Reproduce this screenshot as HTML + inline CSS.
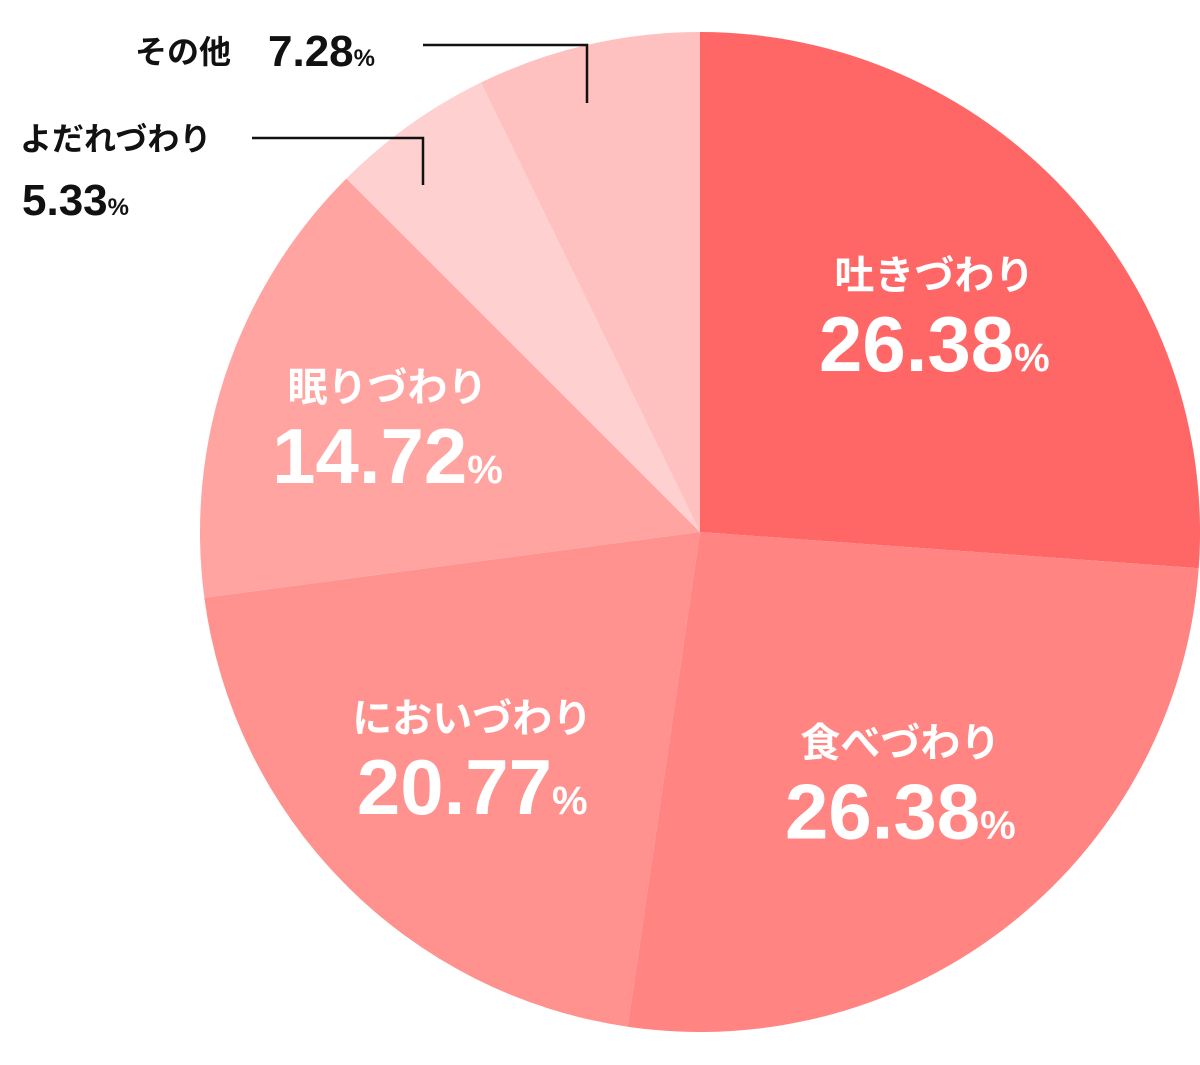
<!DOCTYPE html>
<html><head><meta charset="utf-8"><style>
html,body{margin:0;padding:0;background:#fff;}
svg{display:block;}
text{font-family:"Liberation Sans","Noto Sans CJK JP",sans-serif;font-weight:bold;}
</style></head><body>
<svg id="chart" width="1200" height="1065" viewBox="0 0 1200 1065" xmlns="http://www.w3.org/2000/svg">
<g id="slices"></g>
<g id="labels"></g>
<g>
<text x="135" y="63" font-size="32" fill="#111">その他</text>
<text x="268" y="66" font-size="44" fill="#111">7.28<tspan font-size="24">%</tspan></text>
<polyline points="423,45 587,45 587,103" fill="none" stroke="#111" stroke-width="2.5"/>
<text x="20" y="150" font-size="32" fill="#111">よだれづわり</text>
<text x="22" y="215" font-size="44" fill="#111">5.33<tspan font-size="24">%</tspan></text>
<polyline points="252,138 423,138 423,185" fill="none" stroke="#111" stroke-width="2.5"/>
</g>
</svg>
<script>
const categories = ["吐きづわり","食べづわり","においづわり","眠りづわり","よだれづわり","その他"];
const values = [26.38, 26.38, 20.77, 14.72, 5.33, 7.28];
const colors = ["#FF6767","#FF8482","#FF918E","#FFA4A1","#FFD0D0","#FFC0C0"];
const cx=700, cy=532, r=500;
const NS="http://www.w3.org/2000/svg";
const total = values.reduce((a,b)=>a+b,0);
const sg=document.getElementById('slices'), lg=document.getElementById('labels');
function pt(a,rr){return [cx+rr*Math.sin(a), cy-rr*Math.cos(a)];}
let a0=0;
const slugs=["vomit","eat","smell","sleep","drool","other"];
values.forEach((v,i)=>{
  const a1=a0+v/total*2*Math.PI;
  const p0=pt(a0,r), p1=pt(a1,r);
  const path=document.createElementNS(NS,'path');
  path.setAttribute('d',`M${cx},${cy} L${p0[0]},${p0[1]} A${r},${r} 0 ${a1-a0>Math.PI?1:0} 1 ${p1[0]},${p1[1]} Z`);
  path.setAttribute('fill',colors[i]);
  
  
  sg.appendChild(path);
  if(i<4){
    const mid=(a0+a1)/2;
    const c=pt(mid, i===3?330:320);
    const t=document.createElementNS(NS,'text');
    t.setAttribute('x',c[0]); t.setAttribute('y',c[1]-25);
    t.setAttribute('text-anchor','middle'); t.setAttribute('font-size','40'); t.setAttribute('fill','#fff');
    t.textContent=categories[i];
    
    
    lg.appendChild(t);
    const n=document.createElementNS(NS,'text');
    n.setAttribute('x',c[0]); n.setAttribute('y',c[1]+57);
    n.setAttribute('text-anchor','middle'); n.setAttribute('font-size','78'); n.setAttribute('fill','#fff');
    n.innerHTML=v.toFixed(2)+'<tspan font-size="40">%</tspan>';
    
    
    lg.appendChild(n);
  }
  a0=a1;
});
</script>
</body></html>
